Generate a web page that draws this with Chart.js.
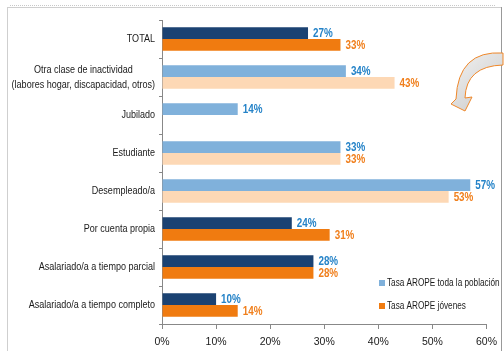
<!DOCTYPE html>
<html>
<head>
<meta charset="utf-8">
<script src="https://cdn.jsdelivr.net/npm/chart.js@4/dist/chart.umd.min.js"></script>
<style>
  body { margin: 0; background: #fff; }
  #graficoBarras { display: block; }
</style>
</head>
<body>
<canvas id="graficoBarras" width="504" height="351"></canvas>
<script>
// Categorias do eixo Y (de cima para baixo)
const categorias = [
    'TOTAL',
    ['Otra clase de inactividad', '(labores hogar, discapacidad, otros)'],
    'Jubilado',
    'Estudiante',
    'Desempleado/a',
    'Por cuenta propia',
    'Asalariado/a a tiempo parcial',
    'Asalariado/a a tiempo completo'
];

// Valores (%)
const tasaPoblacion = [27, 34, 14, 33, 57, 24, 28, 10];
const tasaJovenes = [33, 43, null, 33, 53, 31, 28, 14];

const nomesSeries = ['Tasa AROPE toda la población', 'Tasa AROPE jóvenes'];
const ticksX = [0, 10, 20, 30, 40, 50, 60];

// Estilos
const fonteTexto = '"Liberation Sans", Arial, sans-serif';
const estreito = 0.82; // compressão horizontal para imitar fonte estreita
const categoriasClaras = [1, 2, 3, 4]; // inactivos / parados com cor clara
const corEscuraPob = '#1B4272';
const corClaraPob = '#80B1DB';
const corEscuraJov = '#F07B10';
const corClaraJov = '#FDD8B5';

function coresPorBarra(escura, clara) {
    return categorias.map(function (c, i) {
        return categoriasClaras.includes(i) ? clara : escura;
    });
}

// Escreve texto comprimido na horizontal; alinhamento: 'left', 'center' ou 'right'
function textoEstreito(ctx, texto, x, y, alinhamento) {
    const largura = ctx.measureText(texto).width * estreito;
    let x0 = x;
    if (alinhamento === 'center') x0 = x - largura / 2;
    if (alinhamento === 'right') x0 = x - largura;
    ctx.save();
    ctx.textAlign = 'left';
    ctx.translate(x0, y);
    ctx.scale(estreito, 1);
    ctx.fillText(texto, 0, 0);
    ctx.restore();
}

// Moldura cinza em volta do gráfico
const moldura = {
    id: 'moldura',
    beforeDraw(chart) {
        const ctx = chart.ctx;
        ctx.save();
        ctx.fillStyle = '#fff';
        ctx.fillRect(0, 0, chart.width, chart.height);
        ctx.strokeStyle = '#c8c8c8';
        ctx.setLineDash([1, 1]);
        ctx.beginPath();
        ctx.moveTo(10, 5.5);
        ctx.lineTo(496, 5.5);
        ctx.stroke();
        ctx.setLineDash([]);
        ctx.strokeStyle = '#cfcfcf';
        ctx.strokeRect(7.5, 7.5, 494, 360);
        ctx.strokeStyle = '#999';
        ctx.beginPath();
        ctx.moveTo(501.5, 7);
        ctx.lineTo(501.5, 351);
        ctx.stroke();
        ctx.restore();
    }
};

// Rótulos das categorias (linhas centradas entre si, alinhadas à direita)
const rotulosY = {
    id: 'rotulosY',
    afterDraw(chart) {
        const ctx = chart.ctx;
        const escala = chart.scales.y;
        ctx.save();
        ctx.font = '11px ' + fonteTexto;
        ctx.fillStyle = '#1a1a1a';
        ctx.textBaseline = 'middle';
        const direita = escala.right - 7;
        escala.getLabels().forEach(function (rotulo, i) {
            const linhas = Array.isArray(rotulo) ? rotulo : [rotulo];
            let largura = 0;
            linhas.forEach(function (l) { largura = Math.max(largura, ctx.measureText(l).width * estreito); });
            const y = escala.getPixelForValue(i);
            linhas.forEach(function (linha, j) {
                textoEstreito(ctx, linha, direita - largura / 2, y + (j - (linhas.length - 1) / 2) * 15, 'center');
            });
        });
        ctx.restore();
    }
};

// Valores na ponta de cada barra
const rotulosValores = {
    id: 'rotulosValores',
    afterDatasetsDraw(chart) {
        const ctx = chart.ctx;
        ctx.save();
        ctx.font = 'bold 12px ' + fonteTexto;
        ctx.textBaseline = 'middle';
        chart.data.datasets.forEach(function (ds, d) {
            const meta = chart.getDatasetMeta(d);
            ctx.fillStyle = ds.corRotulo;
            meta.data.forEach(function (barra, i) {
                const v = ds.data[i];
                if (v === null) return;
                textoEstreito(ctx, v + '%', barra.x + 5, barra.y + 1, 'left');
            });
        });
        ctx.restore();
    }
};

// Legenda dentro da área do gráfico
const legenda = {
    id: 'legenda',
    afterDraw(chart) {
        const ctx = chart.ctx;
        const cores = [corClaraPob, corEscuraJov];
        const ys = [283, 306];
        ctx.save();
        ctx.font = '10px ' + fonteTexto;
        ctx.textBaseline = 'middle';
        nomesSeries.forEach(function (nome, i) {
            ctx.fillStyle = cores[i];
            ctx.fillRect(379, ys[i] - 3, 6, 6);
            ctx.fillStyle = '#1a1a1a';
            textoEstreito(ctx, nome, 387, ys[i], 'left');
        });
        ctx.restore();
    }
};

// Seta curva decorativa à direita
const seta = {
    id: 'seta',
    afterDraw(chart) {
        const ctx = chart.ctx;
        ctx.save();
        const grad = ctx.createLinearGradient(455, 55, 504, 110);
        grad.addColorStop(0, '#f0f0f0');
        grad.addColorStop(1, '#c8c8c8');
        ctx.fillStyle = grad;
        ctx.strokeStyle = '#F0882A';
        ctx.lineWidth = 1;
        ctx.beginPath();
        ctx.moveTo(503, 53);
        ctx.quadraticCurveTo(458, 50, 456, 99);
        ctx.lineTo(451, 104);
        ctx.lineTo(465, 111);
        ctx.lineTo(472, 97);
        ctx.lineTo(465, 98);
        ctx.quadraticCurveTo(466, 66, 503, 65);
        ctx.closePath();
        ctx.fill();
        ctx.stroke();
        ctx.restore();
    }
};

function plotarGrafico() {
    const config = {
        type: 'bar',
        data: {
            labels: categorias,
            datasets: [{
                label: nomesSeries[0],
                data: tasaPoblacion,
                backgroundColor: coresPorBarra(corEscuraPob, corClaraPob),
                corRotulo: '#2583C8',
                categoryPercentage: 0.62,
                barPercentage: 1.0
            }, {
                label: nomesSeries[1],
                data: tasaJovenes,
                backgroundColor: coresPorBarra(corEscuraJov, corClaraJov),
                corRotulo: '#F07F1C',
                categoryPercentage: 0.62,
                barPercentage: 1.0
            }]
        },
        options: {
            indexAxis: 'y',
            responsive: false,
            animation: false,
            layout: { padding: { top: 20, right: 14, left: 0, bottom: 0 } },
            plugins: {
                legend: { display: false },
                tooltip: { enabled: false }
            },
            scales: {
                x: {
                    min: ticksX[0],
                    max: ticksX[ticksX.length - 1],
                    afterBuildTicks: function (escala) {
                        escala.ticks = ticksX.map(function (v) { return { value: v }; });
                    },
                    afterFit: function (escala) { escala.height = 27; },
                    grid: { drawOnChartArea: false, drawTicks: true, tickLength: 5, color: '#888' },
                    border: { color: '#888' },
                    ticks: {
                        padding: 7,
                        color: '#1a1a1a',
                        font: { family: fonteTexto, size: 10.5 },
                        callback: function (v) { return v + '%'; }
                    }
                },
                y: {
                    afterFit: function (escala) { escala.width = 162; },
                    grid: { drawOnChartArea: false, drawTicks: true, tickLength: 3, color: '#888', offset: true },
                    border: { color: '#888' },
                    ticks: { display: false }
                }
            }
        },
        plugins: [moldura, rotulosValores, rotulosY, legenda, seta]
    };

    new Chart(document.getElementById('graficoBarras'), config);
}

plotarGrafico();
</script>
</body>
</html>
